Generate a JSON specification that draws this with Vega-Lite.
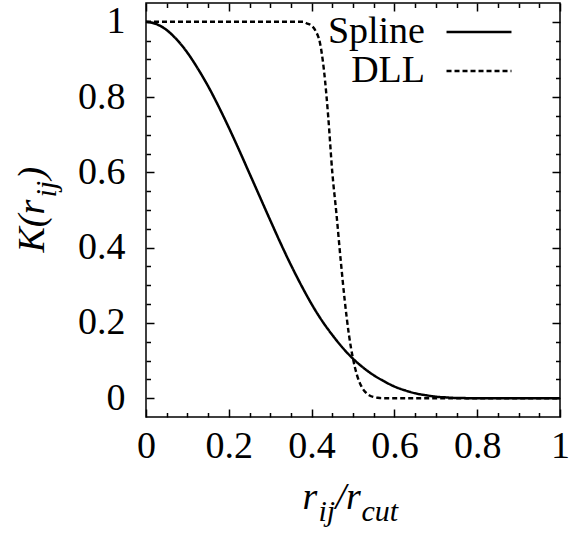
{
  "$schema": "https://vega.github.io/schema/vega-lite/v6.json",
  "width": 414,
  "height": 414,
  "autosize": {"type": "none"},
  "padding": {"left": 146, "top": 3, "right": 11, "bottom": 119},
  "config": {
    "view": {"stroke": "black", "strokeWidth": 1.5},
    "axis": {
      "domain": false,
      "grid": false,
      "labelFont": "Times New Roman, Liberation Serif, serif",
      "labelFontSize": 38,
      "labelColor": "black",
      "labelOverlap": false,
      "labelFlush": false,
      "tickColor": "black",
      "tickWidth": 1.5,
      "titleFont": "Times New Roman, Liberation Serif, serif",
      "titleFontSize": 38,
      "titleFontStyle": "italic",
      "titleFontWeight": "normal",
      "titleColor": "black",
      "titleBaseline": "alphabetic",
      "titleAlign": "left"
    },
    "legend": {
      "labelFont": "Times New Roman, Liberation Serif, serif",
      "labelFontSize": 38,
      "labelColor": "black",
      "labelAlign": "right",
      "labelLimit": 0,
      "symbolType": "M-2,0H2",
      "symbolSize": 1055,
      "symbolStrokeColor": "black",
      "symbolStrokeWidth": 2.5,
      "rowPadding": 1
    }
  },
  "datasets": {
    "kernel": [
      {"r": 0, "K": 1, "series": "Spline"},
      {"r": 0.025, "K": 0.994, "series": "Spline"},
      {"r": 0.05, "K": 0.978, "series": "Spline"},
      {"r": 0.075, "K": 0.952, "series": "Spline"},
      {"r": 0.1, "K": 0.918, "series": "Spline"},
      {"r": 0.125, "K": 0.876, "series": "Spline"},
      {"r": 0.15, "K": 0.829, "series": "Spline"},
      {"r": 0.175, "K": 0.776, "series": "Spline"},
      {"r": 0.2, "K": 0.719, "series": "Spline"},
      {"r": 0.225, "K": 0.659, "series": "Spline"},
      {"r": 0.25, "K": 0.597, "series": "Spline"},
      {"r": 0.275, "K": 0.535, "series": "Spline"},
      {"r": 0.3, "K": 0.473, "series": "Spline"},
      {"r": 0.325, "K": 0.412, "series": "Spline"},
      {"r": 0.35, "K": 0.354, "series": "Spline"},
      {"r": 0.375, "K": 0.3, "series": "Spline"},
      {"r": 0.4, "K": 0.25, "series": "Spline"},
      {"r": 0.425, "K": 0.206, "series": "Spline"},
      {"r": 0.45, "K": 0.168, "series": "Spline"},
      {"r": 0.475, "K": 0.134, "series": "Spline"},
      {"r": 0.5, "K": 0.105, "series": "Spline"},
      {"r": 0.525, "K": 0.081, "series": "Spline"},
      {"r": 0.55, "K": 0.061, "series": "Spline"},
      {"r": 0.575, "K": 0.045, "series": "Spline"},
      {"r": 0.6, "K": 0.031, "series": "Spline"},
      {"r": 0.625, "K": 0.021, "series": "Spline"},
      {"r": 0.65, "K": 0.013, "series": "Spline"},
      {"r": 0.675, "K": 0.008, "series": "Spline"},
      {"r": 0.7, "K": 0.004, "series": "Spline"},
      {"r": 0.725, "K": 0.002, "series": "Spline"},
      {"r": 0.75, "K": 0.0005, "series": "Spline"},
      {"r": 0.8, "K": 0, "series": "Spline"},
      {"r": 0.9, "K": 0, "series": "Spline"},
      {"r": 1, "K": 0, "series": "Spline"},
      {"r": 0, "K": 1, "series": "DLL"},
      {"r": 0.1, "K": 1, "series": "DLL"},
      {"r": 0.2, "K": 1, "series": "DLL"},
      {"r": 0.3, "K": 1, "series": "DLL"},
      {"r": 0.38, "K": 1, "series": "DLL"},
      {"r": 0.39, "K": 0.995, "series": "DLL"},
      {"r": 0.4, "K": 0.99, "series": "DLL"},
      {"r": 0.41, "K": 0.975, "series": "DLL"},
      {"r": 0.42, "K": 0.945, "series": "DLL"},
      {"r": 0.43, "K": 0.87, "series": "DLL"},
      {"r": 0.44, "K": 0.75, "series": "DLL"},
      {"r": 0.45, "K": 0.6, "series": "DLL"},
      {"r": 0.46, "K": 0.49, "series": "DLL"},
      {"r": 0.47, "K": 0.37, "series": "DLL"},
      {"r": 0.48, "K": 0.26, "series": "DLL"},
      {"r": 0.49, "K": 0.17, "series": "DLL"},
      {"r": 0.5, "K": 0.105, "series": "DLL"},
      {"r": 0.51, "K": 0.06, "series": "DLL"},
      {"r": 0.52, "K": 0.032, "series": "DLL"},
      {"r": 0.53, "K": 0.016, "series": "DLL"},
      {"r": 0.54, "K": 0.007, "series": "DLL"},
      {"r": 0.55, "K": 0.003, "series": "DLL"},
      {"r": 0.56, "K": 0.001, "series": "DLL"},
      {"r": 0.57, "K": 0, "series": "DLL"},
      {"r": 0.7, "K": 0, "series": "DLL"},
      {"r": 0.85, "K": 0, "series": "DLL"},
      {"r": 1, "K": 0, "series": "DLL"}
    ]
  },
  "layer": [
    {
      "data": {"name": "kernel"},
      "transform": [{"filter": "datum.series === 'Spline'"}],
      "mark": {"type": "line", "color": "black", "strokeWidth": 2.5, "interpolate": "monotone"},
      "encoding": {
        "x": {
          "field": "r", "type": "quantitative",
          "scale": {"domain": [0, 1], "nice": false, "zero": false},
          "axis": {
            "orient": "bottom",
            "values": [0, 0.05, 0.1, 0.15, 0.2, 0.25, 0.3, 0.35, 0.4, 0.45, 0.5, 0.55, 0.6, 0.65, 0.7, 0.75, 0.8, 0.85, 0.9, 0.95, 1],
            "tickSize": {"condition": {"test": "abs(datum.value * 5 - round(datum.value * 5)) < 0.01", "value": -8}, "value": -4.5},
            "labelExpr": "abs(datum.value * 5 - round(datum.value * 5)) < 0.01 ? format(datum.value, '~g') : ''",
            "labelPadding": 48,
            "labelBaseline": "alphabetic",
            "title": "r",
            "titleX": 156,
            "titleY": 91
          }
        },
        "y": {
          "field": "K", "type": "quantitative",
          "scale": {"domain": [-0.05, 1.05], "nice": false, "zero": false},
          "axis": {
            "orient": "left",
            "values": [0, 0.05, 0.1, 0.15, 0.2, 0.25, 0.3, 0.35, 0.4, 0.45, 0.5, 0.55, 0.6, 0.65, 0.7, 0.75, 0.8, 0.85, 0.9, 0.95, 1],
            "tickSize": {"condition": {"test": "abs(datum.value * 5 - round(datum.value * 5)) < 0.01", "value": -8}, "value": -4.5},
            "labelExpr": "abs(datum.value * 5 - round(datum.value * 5)) < 0.01 ? format(datum.value, '~g') : ''",
            "labelPadding": 29,
            "title": "K(r",
            "titleAngle": 270,
            "titleX": -103,
            "titleY": 249
          }
        },
        "strokeDash": {
          "field": "series", "type": "nominal",
          "scale": {"domain": ["Spline", "DLL"], "range": [[1, 0], [5, 3]]},
          "legend": {"title": null, "orient": "none", "legendX": 314, "legendY": 10, "labelOffset": -73}
        }
      }
    },
    {
      "data": {"name": "kernel"},
      "transform": [{"filter": "datum.series === 'DLL'"}],
      "mark": {"type": "line", "color": "black", "strokeWidth": 2.4, "interpolate": "monotone"},
      "encoding": {
        "x": {
          "field": "r", "type": "quantitative",
          "axis": {
            "orient": "top",
            "values": [0, 0.05, 0.1, 0.15, 0.2, 0.25, 0.3, 0.35, 0.4, 0.45, 0.5, 0.55, 0.6, 0.65, 0.7, 0.75, 0.8, 0.85, 0.9, 0.95, 1],
            "tickSize": {"condition": {"test": "abs(datum.value * 5 - round(datum.value * 5)) < 0.01", "value": -8}, "value": -4.5},
            "labels": false,
            "title": null
          }
        },
        "y": {
          "field": "K", "type": "quantitative",
          "axis": {
            "orient": "right",
            "values": [0, 0.05, 0.1, 0.15, 0.2, 0.25, 0.3, 0.35, 0.4, 0.45, 0.5, 0.55, 0.6, 0.65, 0.7, 0.75, 0.8, 0.85, 0.9, 0.95, 1],
            "tickSize": {"condition": {"test": "abs(datum.value * 5 - round(datum.value * 5)) < 0.01", "value": -8}, "value": -4.5},
            "labels": false,
            "title": null
          }
        },
        "strokeDash": {"field": "series", "type": "nominal"}
      }
    },
    {
      "data": {"values": []},
      "mark": "point",
      "encoding": {
        "x": {"field": "r", "type": "quantitative",
          "axis": {"orient": "bottom", "ticks": false, "labels": false, "title": "ij", "titleFontSize": 30, "titleX": 172, "titleY": 103}},
        "y": {"field": "K", "type": "quantitative",
          "axis": {"orient": "left", "ticks": false, "labels": false, "title": "ij", "titleFontSize": 30, "titleAngle": 270, "titleX": -91, "titleY": 194}}
      }
    },
    {
      "data": {"values": []},
      "mark": "point",
      "encoding": {
        "x": {"field": "r", "type": "quantitative",
          "axis": {"orient": "bottom", "ticks": false, "labels": false, "title": "/r", "titleX": 189, "titleY": 91}},
        "y": {"field": "K", "type": "quantitative",
          "axis": {"orient": "left", "ticks": false, "labels": false, "title": ")", "titleAngle": 270, "titleX": -103, "titleY": 176}}
      }
    },
    {
      "data": {"values": []},
      "mark": "point",
      "encoding": {
        "x": {"field": "r", "type": "quantitative",
          "axis": {"orient": "bottom", "ticks": false, "labels": false, "title": "cut", "titleFontSize": 30, "titleX": 215, "titleY": 103}},
        "y": {"field": "K", "type": "quantitative", "axis": null}
      }
    }
  ]
}
